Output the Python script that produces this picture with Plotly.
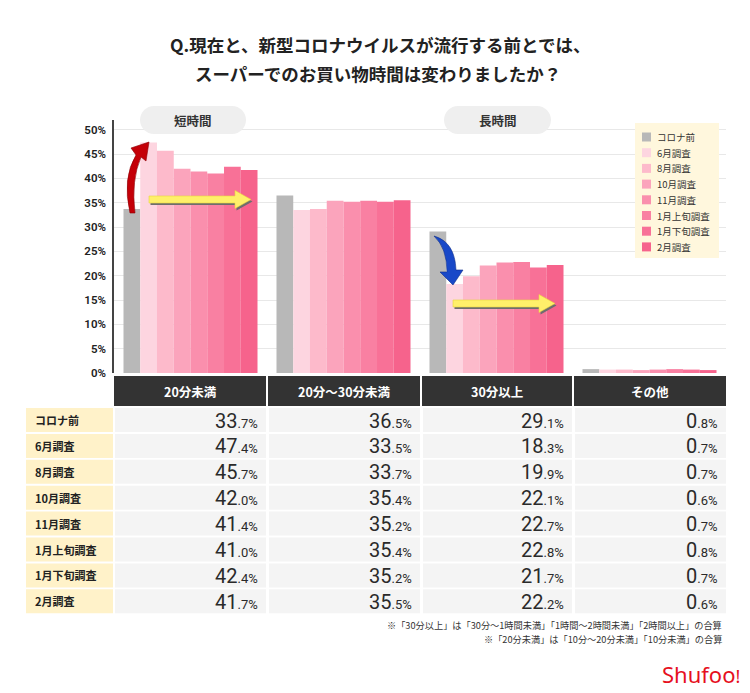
import plotly.graph_objects as go

# ---------------- data ----------------
categories = ["20分未満", "20分〜30分未満", "30分以上", "その他"]
series_names = ["コロナ前", "6月調査", "8月調査", "10月調査", "11月調査",
                "1月上旬調査", "1月下旬調査", "2月調査"]
corona_before = [33.7, 36.5, 29.1, 0.8]
survey_jun = [47.4, 33.5, 18.3, 0.7]
survey_aug = [45.7, 33.7, 19.9, 0.7]
survey_oct = [42.0, 35.4, 22.1, 0.6]
survey_nov = [41.4, 35.2, 22.7, 0.7]
survey_jan_early = [41.0, 35.4, 22.8, 0.8]
survey_jan_late = [42.4, 35.2, 21.7, 0.7]
survey_feb = [41.7, 35.5, 22.2, 0.6]
y_ticks = [0, 5, 10, 15, 20, 25, 30, 35, 40, 45, 50]
y_tick_labels = ["0%", "5%", "10%", "15%", "20%", "25%", "30%", "35%", "40%", "45%", "50%"]
footnotes = ["※「30分以上」は「30分〜1時間未満」「1時間〜2時間未満」「2時間以上」の合算",
             "※「20分未満」は「10分〜20分未満」「10分未満」の合算"]

all_series = [corona_before, survey_jun, survey_aug, survey_oct, survey_nov,
              survey_jan_early, survey_jan_late, survey_feb]

# ---------------- style ----------------
bar_colors = ["#B8B8B8", "#FDD5E0", "#FDBACB", "#FBA4BC", "#FA8FAD",
              "#F980A2", "#F87197", "#F6638C"]
JP = "Noto Sans CJK JP"
NUM = "Liberation Sans Narrow, Roboto, sans-serif"

W, H = 750, 693
L, R, T, B = 114, 24, 120, 320
PW, PH = W - L - R, H - T - B


def xp(px):
    return (px - L) / PW


def yp(py):
    return (H - B - py) / PH


def P(px, py):
    return f"{xp(px):.5f},{yp(py):.5f}"


fig = go.Figure()
for name, vals, col in zip(series_names, all_series, bar_colors):
    fig.add_trace(go.Bar(name=name, x=categories, y=vals,
                         marker=dict(color=col, line=dict(width=0)),
                         showlegend=False, hoverinfo="x+y+name"))

shapes = []
annotations = []


def rect(x0, y0, x1, y1, color):
    shapes.append(dict(type="rect", xref="paper", yref="paper",
                       x0=xp(x0), x1=xp(x1), y0=yp(y1), y1=yp(y0),
                       fillcolor=color, line=dict(width=0), layer="above"))


def text(x, y, s, size, color="#333", family=JP, xanchor="center", bold=False,
         align="center"):
    if bold:
        s = f"<b>{s}</b>"
    annotations.append(dict(xref="paper", yref="paper", x=xp(x), y=yp(y),
                            text=s, showarrow=False, xanchor=xanchor,
                            yanchor="middle", align=align, borderpad=0,
                            font=dict(size=size, color=color, family=family)))


def pill(x0, y0, x1, y1, color):
    r = (y1 - y0) / 2
    k = 0.55 * r
    path = (f"M {P(x0 + r, y0)} L {P(x1 - r, y0)} "
            f"C {P(x1 - r + k, y0)} {P(x1, y0 + r - k)} {P(x1, y0 + r)} "
            f"C {P(x1, y0 + r + k)} {P(x1 - r + k, y1)} {P(x1 - r, y1)} "
            f"L {P(x0 + r, y1)} "
            f"C {P(x0 + r - k, y1)} {P(x0, y0 + r + k)} {P(x0, y0 + r)} "
            f"C {P(x0, y0 + r - k)} {P(x0 + r - k, y0)} {P(x0 + r, y0)} Z")
    shapes.append(dict(type="path", xref="paper", yref="paper", path=path,
                       fillcolor=color, line=dict(width=0), layer="above"))


def poly(points, color, line_color=None):
    path = "M " + " L ".join(P(*p) for p in points) + " Z"
    shapes.append(dict(type="path", xref="paper", yref="paper", path=path,
                       fillcolor=color,
                       line=dict(width=0.6 if line_color else 0,
                                 color=line_color or color),
                       layer="above"))


def h_arrow(x0, x1, yc, color="#FFF06A"):
    sh = 3.5
    hh = 9
    hx = x1 - 16
    pts = [(x0, yc - sh), (hx, yc - sh), (hx, yc - hh), (x1, yc),
           (hx, yc + hh), (hx, yc + sh), (x0, yc + sh)]
    poly([(x + 1.5, y + 2) for x, y in pts], "#6E6E6E")
    poly(pts, color, "#E8D640")


# title
text(380, 45, "Q.現在と、新型コロナウイルスが流行する前とでは、", 17.5, "#222", bold=True)
text(378, 73, "スーパーでのお買い物時間は変わりましたか？", 17.5, "#222", bold=True)

# pills
pill(140, 106, 246, 134, "#EFEFEF")
text(193, 120, "短時間", 12.5, "#333", bold=True)
pill(444, 106, 551, 134, "#EFEFEF")
text(497.5, 120, "長時間", 12.5, "#333", bold=True)

# arrows
shapes.append(dict(type="path", xref="paper", yref="paper", layer="above",
                   path=(f"M {P(130, 213)} Q {P(122, 178)} {P(136, 155)} "
                         f"L {P(131, 148)} L {P(149, 142)} L {P(146, 161)} "
                         f"L {P(141, 157)} Q {P(131, 180)} {P(135, 213)} Z"),
                   fillcolor="#C40008", line=dict(width=0.6, color="#8A0005")))
shapes.append(dict(type="path", xref="paper", yref="paper", layer="above",
                   path=(f"M {P(434, 236)} Q {P(455, 242)} {P(456, 270)} "
                         f"L {P(463, 270)} L {P(453, 285)} L {P(440, 272)} "
                         f"L {P(447, 272)} Q {P(447, 248)} {P(434, 236)} Z"),
                   fillcolor="#1848C8", line=dict(width=0.6, color="#0E2E8A")))
h_arrow(149, 251, 199.5)
h_arrow(453, 555, 303.5)

# manual legend
rect(635, 123, 719, 258, "#FFF7DD")
for i, (name, col) in enumerate(zip(series_names, bar_colors)):
    yc = 137 + i * 15.7
    rect(642, yc - 4.5, 651, yc + 4.5, col)
    text(656, yc, name, 9.5, "#333", xanchor="left")

# table header
col_edges = [(114, 266), (268, 420), (422, 572), (574, 726)]
rect(114, 376, 726, 406, "#333333")
for (c0, c1) in col_edges[1:]:
    rect(c0 - 2, 376, c0, 406, "#FFFFFF")
for cat, (c0, c1) in zip(categories, col_edges):
    text((c0 + c1) / 2, 391, cat, 12.5, "#FFFFFF", bold=True)

# table body
row_top0 = 408
row_pitch = 25.9
row_h = 24
for i, (name, vals) in enumerate(zip(series_names, all_series)):
    y0 = row_top0 + i * row_pitch
    y1 = y0 + row_h
    yc = (y0 + y1) / 2
    rect(26, y0, 113, y1, "#FFF2C9")
    text(34, yc, name, 11, "#222", xanchor="left", bold=True)
    for v, (c0, c1) in zip(vals, col_edges):
        rect(c0 + 1, y0, c1, y1, "#F4F4F4")
        ip, dp = f"{v:.1f}".split(".")
        s = f"{ip}<span style='font-size:13px'>.{dp}%</span>"
        text(c1 - 7, yc + 0.5, s, 20, "#2A2A2A", family=NUM, xanchor="right")

# footnotes
text(723, 624.5, footnotes[0], 9.2, "#333", xanchor="right")
text(723, 638.5, footnotes[1], 9.2, "#333", xanchor="right")

# logo
text(741, 674, "Shufoo<span style='font-size:18px'>!</span>", 22, "#E60F1E",
     family="Noto Sans, sans-serif", xanchor="right")

fig.update_layout(
    width=W, height=H,
    margin=dict(l=L, r=R, t=T, b=B, pad=0),
    paper_bgcolor="#FFFFFF", plot_bgcolor="#FFFFFF",
    barmode="group", bargap=0.124, bargroupgap=0,
    showlegend=False,
    shapes=shapes, annotations=annotations,
    xaxis=dict(showticklabels=False, showgrid=False, zeroline=False,
               showline=False, ticks=""),
    yaxis=dict(range=[0, 52], tickvals=y_ticks, ticktext=y_tick_labels,
               showgrid=True, gridcolor="#E8E8E8", gridwidth=1,
               zeroline=False, showline=True, linecolor="#444", linewidth=1.5,
               ticks="", ticklabelstandoff=4,
               tickfont=dict(size=11.5, color="#222", family="Roboto, sans-serif",
                             weight=600)),
)

fig.write_html("out.html", config={"displayModeBar": False},
               post_script="document.body.style.margin='0px';")
